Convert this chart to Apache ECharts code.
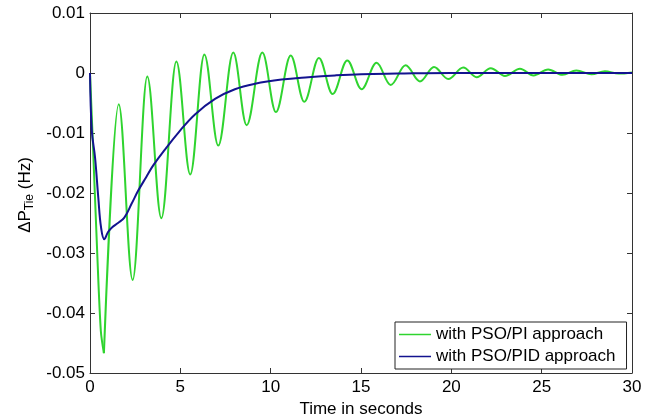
<!DOCTYPE html>
<html>
<head>
<meta charset="utf-8">
<script src="https://cdn.jsdelivr.net/npm/echarts@6/dist/echarts.min.js"></script>
<style>html,body{margin:0;padding:0;background:#fff}#c{width:662px;height:416px}</style>
</head>
<body>
<div id="c"></div>
<script>
// Series names
const seriesNames = ['with PSO/PI approach', 'with PSO/PID approach'];
// Tick values
const xTicks = [0, 5, 10, 15, 20, 25, 30];
const yTicks = [-0.05, -0.04, -0.03, -0.02, -0.01, 0, 0.01];

// PSO/PI (green): initial drop, then successive extremes
const piStartTime = [0, 0.15, 0.4, 0.6, 0.77];
const piStartValue = [0, -0.011, -0.030, -0.043, -0.0467];
const piTime = [0.77, 1.59, 2.36, 3.17, 3.95, 4.78, 5.55, 6.33, 7.10, 7.93, 8.67, 9.54, 10.29, 11.11, 11.86, 12.67, 13.43, 14.24, 15.03, 15.86, 16.64, 17.47, 18.26, 19.04, 19.83, 20.66, 21.40, 22.18, 22.97, 23.80, 24.55, 25.36, 26.15, 26.92, 27.76, 28.50, 29.25, 30.00];
const piValue = [-0.0467, -0.0052, -0.0345, -0.0006, -0.0242, 0.0019, -0.0169, 0.0031, -0.0121, 0.0034, -0.0087, 0.0034, -0.0065, 0.0029, -0.0048, 0.0025, -0.0035, 0.0021, -0.0027, 0.0017, -0.0020, 0.0013, -0.0014, 0.0010, -0.0010, 0.0009, -0.0007, 0.0008, -0.0005, 0.0007, -0.0004, 0.0006, -0.0003, 0.0004, -0.0002, 0.0003, -0.0001, 0.0001];

// PSO/PID (blue)
const pidTime = [0, 0.1, 0.28, 0.46, 0.61, 0.79, 1.0, 1.23, 1.55, 1.90, 2.3, 2.67, 3.1, 3.5, 4.24, 4.93, 5.81, 6.92, 8.02, 9.13, 10.6, 12.08, 13.56, 15, 17, 20, 25, 30];
const pidValue = [0, -0.0096, -0.0141, -0.0208, -0.0257, -0.0277, -0.0265, -0.0257, -0.0250, -0.0241, -0.0218, -0.0196, -0.0174, -0.0154, -0.0124, -0.0098, -0.0069, -0.0043, -0.0027, -0.0018, -0.0011, -0.0007, -0.0004, -0.0002, -0.0001, 0, 0, 0];

const zip = (a, b) => a.map((t, i) => [t, b[i]]);
const FONT = 'Liberation Sans, Arial, sans-serif';
const AX = '#333';
const GREEN = '#2fd42f';
const BLUE = '#13138f';

const chart = echarts.init(document.getElementById('c'), null, {renderer: 'canvas'});
const baseX = {
  type: 'value', min: xTicks[0], max: xTicks[xTicks.length - 1], interval: 5,
  axisLine: {show: true, onZero: false, lineStyle: {color: AX, width: 1}},
  axisTick: {show: true, inside: true, length: 5, lineStyle: {color: AX}},
  splitLine: {show: false}
};
const baseY = {
  type: 'value', min: yTicks[0], max: yTicks[yTicks.length - 1], interval: 0.01,
  axisLine: {show: true, onZero: false, lineStyle: {color: AX, width: 1}},
  axisTick: {show: true, inside: true, length: 5, lineStyle: {color: AX}},
  splitLine: {show: false}
};
chart.setOption({
  animation: false,
  backgroundColor: '#fff',
  grid: {left: 90, right: 30, top: 13, bottom: 43, containLabel: false, outerBoundsMode: 'none'},
  xAxis: [
    Object.assign({}, baseX, {
      position: 'bottom',
      axisLabel: {color: '#000', fontFamily: FONT, fontSize: 17, margin: 6},
      name: 'Time in seconds', nameLocation: 'middle', nameGap: 22,
      nameTextStyle: {color: '#000', fontFamily: FONT, fontSize: 17}
    }),
    Object.assign({}, baseX, {position: 'top', axisLabel: {show: false}})
  ],
  yAxis: [
    Object.assign({}, baseY, {
      position: 'left',
      axisLabel: {color: '#000', fontFamily: FONT, fontSize: 17, margin: 5,
        formatter: v => String(Math.round(v * 100) / 100)}
    }),
    Object.assign({}, baseY, {position: 'right', axisLabel: {show: false}})
  ],
  legend: {
    left: 395, top: 322, orient: 'vertical',
    itemWidth: 32, itemHeight: 10, itemGap: 5,
    padding: [4, 11, 4, 4],
    borderColor: '#222', borderWidth: 1, backgroundColor: '#fff',
    textStyle: {color: '#000', fontFamily: FONT, fontSize: 17},
    data: seriesNames.map(n => ({name: n, icon: 'path://M0,4 L32,4 L32,5.5 L0,5.5 Z'}))
  },
  graphic: [{
    type: 'text', x: 25, y: 195, rotation: Math.PI / 2,
    style: {
      text: '{a|ΔP}{b|Tie}{a| (Hz)}',
      align: 'center', verticalAlign: 'middle',
      rich: {
        a: {fontFamily: FONT, fontSize: 17, fill: '#000', color: '#000'},
        b: {fontFamily: FONT, fontSize: 12, fill: '#000', color: '#000', padding: [9, 0, 0, 0]}
      }
    }
  }],
  series: [
    {name: seriesNames[0], type: 'line', data: zip(piStartTime, piStartValue), showSymbol: false,
      smooth: 0.3, lineStyle: {color: GREEN, width: 2}, itemStyle: {color: GREEN}, z: 2},
    {name: seriesNames[0], type: 'line', data: zip(piTime, piValue), showSymbol: false,
      smooth: 0.36, smoothMonotone: 'x', lineStyle: {color: GREEN, width: 2}, itemStyle: {color: GREEN}, z: 2},
    {name: seriesNames[1], type: 'line', data: zip(pidTime, pidValue), showSymbol: false,
      smooth: 0.4, lineStyle: {color: BLUE, width: 2}, itemStyle: {color: BLUE}, z: 3}
  ]
});
</script>
</body>
</html>
